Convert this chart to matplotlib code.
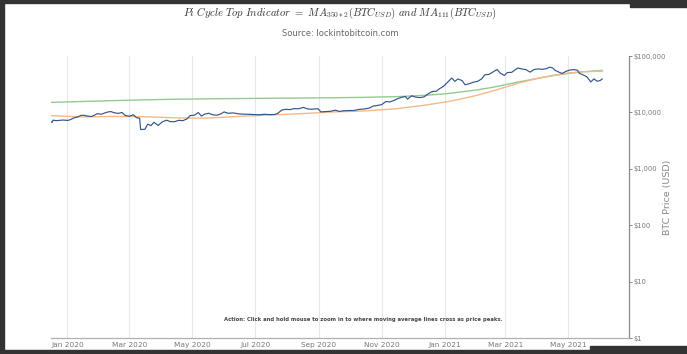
import matplotlib
matplotlib.use("Agg")
import matplotlib.pyplot as plt
import matplotlib.dates as mdates
from matplotlib.patches import Rectangle
import pandas as pd

# ── Data ─────────────────────────────────────────────────────────────────────
price_dates = [
    "2019-12-15", "2019-12-17", "2019-12-18", "2019-12-21", "2019-12-25", "2019-12-28",
    "2020-01-01", "2020-01-03", "2020-01-06", "2020-01-08", "2020-01-10", "2020-01-14",
    "2020-01-17", "2020-01-20", "2020-01-24", "2020-01-27", "2020-01-30", "2020-02-03",
    "2020-02-06", "2020-02-09", "2020-02-12", "2020-02-15", "2020-02-19", "2020-02-23",
    "2020-02-26", "2020-03-01", "2020-03-05", "2020-03-08", "2020-03-11", "2020-03-12",
    "2020-03-16", "2020-03-19", "2020-03-22", "2020-03-25", "2020-03-29", "2020-04-02",
    "2020-04-06", "2020-04-10", "2020-04-14", "2020-04-18", "2020-04-22", "2020-04-26",
    "2020-04-29", "2020-05-03", "2020-05-07", "2020-05-10", "2020-05-13", "2020-05-17",
    "2020-05-21", "2020-05-25", "2020-05-29", "2020-06-01", "2020-06-05", "2020-06-10",
    "2020-06-15", "2020-06-20", "2020-06-25", "2020-06-30", "2020-07-05", "2020-07-10",
    "2020-07-15", "2020-07-20", "2020-07-23", "2020-07-27", "2020-07-31", "2020-08-04",
    "2020-08-08", "2020-08-12", "2020-08-17", "2020-08-21", "2020-08-25", "2020-08-31",
    "2020-09-03", "2020-09-07", "2020-09-12", "2020-09-17", "2020-09-21", "2020-09-25",
    "2020-09-30", "2020-10-05", "2020-10-10", "2020-10-15", "2020-10-20", "2020-10-24",
    "2020-10-28", "2020-11-01", "2020-11-05", "2020-11-09", "2020-11-13", "2020-11-17",
    "2020-11-21", "2020-11-24", "2020-11-26", "2020-11-30", "2020-12-04", "2020-12-08",
    "2020-12-12", "2020-12-16", "2020-12-20", "2020-12-24", "2020-12-27", "2020-12-31",
    "2021-01-03", "2021-01-08", "2021-01-11", "2021-01-14", "2021-01-18", "2021-01-21",
    "2021-01-25", "2021-01-29", "2021-02-02", "2021-02-06", "2021-02-09", "2021-02-13",
    "2021-02-17", "2021-02-21", "2021-02-24", "2021-02-28", "2021-03-03", "2021-03-07",
    "2021-03-10", "2021-03-13", "2021-03-17", "2021-03-21", "2021-03-25", "2021-03-29",
    "2021-04-02", "2021-04-06", "2021-04-10", "2021-04-13", "2021-04-16", "2021-04-18",
    "2021-04-22", "2021-04-25", "2021-04-29", "2021-05-03", "2021-05-07", "2021-05-10",
    "2021-05-12", "2021-05-15", "2021-05-19", "2021-05-23", "2021-05-26", "2021-05-29",
    "2021-06-01", "2021-06-03",
]
price_usd = [
    7090, 6640, 7280, 7150, 7250, 7320,
    7200, 7340, 7770, 8080, 8170, 8830,
    8910, 8630, 8440, 8900, 9500, 9290,
    9750, 10150, 10350, 9900, 9600, 9960,
    8800, 8550, 9080, 8040, 7900, 4970,
    5010, 6190, 5830, 6680, 5880, 6790,
    7270, 6870, 6840, 7250, 7140, 7680,
    8780, 8900, 9950, 8600, 9300, 9670,
    9080, 8900, 9430, 10200, 9650, 9790,
    9430, 9300, 9250, 9140, 9070, 9270,
    9130, 9160, 9600, 11000, 11350, 11200,
    11680, 11580, 12250, 11530, 11360, 11650,
    10200, 10340, 10440, 10940, 10420, 10690,
    10780, 10800, 11300, 11500, 11920, 13030,
    13270, 13740, 15590, 15330, 16300, 17650,
    18680, 19160, 17150, 19700, 18650, 18320,
    18800, 21300, 23480, 23730, 26270, 28990,
    33000, 40670, 35550, 39190, 36630, 30830,
    32290, 34300, 35500, 39250, 46400, 47170,
    52150, 57540, 49700, 45240, 50970, 51210,
    55960, 61200, 58920, 57350, 51700, 57750,
    58980, 58100, 59770, 63500, 61300, 56150,
    51700, 49000, 53600, 56620, 57350, 55860,
    49150, 46700, 42900, 34700, 39300, 35700,
    36690, 39200,
]

ma_dates = [
    "2019-12-15", "2020-01-15", "2020-02-15", "2020-03-15", "2020-04-15", "2020-05-15",
    "2020-06-15", "2020-07-15", "2020-08-15", "2020-09-15", "2020-10-15", "2020-11-15",
    "2020-12-15", "2021-01-01", "2021-01-15", "2021-02-01", "2021-02-15", "2021-03-01",
    "2021-03-15", "2021-04-01", "2021-04-15", "2021-05-01", "2021-05-15", "2021-06-03",
]
ma350x2 = [
    15000, 15600, 16200, 16700, 17100, 17400,
    17600, 17800, 18000, 18200, 18500, 19000,
    20200, 21300, 22800, 25000, 27500, 31000,
    35000, 40000, 44500, 49000, 52500, 55500,
]
ma111 = [
    8800, 8300, 8500, 8400, 8000, 7900,
    8500, 9000, 9500, 10200, 10600, 11600,
    13600, 15200, 17000, 20000, 23500, 28000,
    33500, 40000, 45000, 50000, 52500, 53800,
]

# ── Figure ───────────────────────────────────────────────────────────────────
plt.rcParams["mathtext.fontset"] = "cm"
fig = plt.figure(figsize=(6.87, 3.54), dpi=100)
fig.patch.set_facecolor("white")
W, H = 687, 354

def fbox(x0, y0, x1, y1):
    # pixel box (top-left origin) -> figure-fraction rect
    return [x0 / W, 1 - y1 / H, (x1 - x0) / W, (y1 - y0) / H]

ax = fig.add_axes(fbox(51, 56, 629, 338))

ax.plot(pd.to_datetime(ma_dates), ma350x2, color="#93c993", lw=1.0, zorder=2)
ax.plot(pd.to_datetime(ma_dates), ma111, color="#f6b889", lw=1.0, zorder=2)
ax.plot(pd.to_datetime(price_dates), price_usd, color="#34558b", lw=0.85, zorder=3)

ax.set_yscale("log")
ax.set_ylim(1, 100000)
ax.set_xlim(pd.Timestamp("2019-12-16"), pd.Timestamp("2021-06-29"))

ax.yaxis.tick_right()
yt = [1, 10, 100, 1000, 10000, 100000]
ax.set_yticks(yt)
ax.set_yticklabels([f"${v:,}" for v in yt])
ax.yaxis.set_minor_locator(matplotlib.ticker.NullLocator())
ax.tick_params(axis="y", colors="#888", labelcolor="#777", labelsize=4.9,
               length=2, width=0.7, pad=1)
# axis title sits tight against the tick labels, as in the original
ax.text(1.066, 0.5, "BTC Price (USD)", transform=ax.transAxes, rotation=90,
        ha="center", va="center", color="#888", fontsize=6.8)

ax.xaxis.set_major_locator(mdates.MonthLocator(bymonth=[1, 3, 5, 7, 9, 11]))
ax.xaxis.set_major_formatter(mdates.DateFormatter("%b %Y"))
ax.tick_params(axis="x", colors="#888", labelcolor="#777", labelsize=5.3,
               length=0, pad=3)
ax.grid(axis="x", color="#e8e8e8", lw=0.8)
ax.set_axisbelow(True)

for side in ["left", "top"]:
    ax.spines[side].set_visible(False)
ax.spines["right"].set_color("#8a8a8a")
ax.spines["bottom"].set_color("#b0b0b0")
ax.spines["right"].set_linewidth(0.9)
ax.spines["bottom"].set_linewidth(0.9)

ax.text(0.54, 0.067, "Action: Click and hold mouse to zoom in to where moving "
        "average lines cross as price peaks.", transform=ax.transAxes,
        ha="center", va="center", fontsize=3.8, fontweight="bold", color="#444")

# ── Titles ───────────────────────────────────────────────────────────────────
fig.text(340 / W, 1 - 13 / H,
         r"$Pi\ Cycle\ Top\ Indicator\ =\ MA_{350*2}(BTC_{USD})\ and\ MA_{111}(BTC_{USD})$",
         ha="center", va="center", fontsize=7.7, color="#333")
fig.text(340 / W, 1 - 34 / H, "Source: lockintobitcoin.com",
         ha="center", va="center", fontsize=6.0, color="#666")

# ── Screenshot frame ─────────────────────────────────────────────────────────
dark = "#333333"
for box in [(0, 0, 4, 354), (0, 0, 687, 3), (0, 350, 687, 354),
            (630, 0, 687, 7), (590, 346, 687, 354)]:
    r = fbox(*box)
    fig.patches.append(Rectangle(r[:2], r[2], r[3],
                                 transform=fig.transFigure, color=dark, zorder=10))

fig.savefig("out.png", dpi=100, facecolor=fig.get_facecolor())
